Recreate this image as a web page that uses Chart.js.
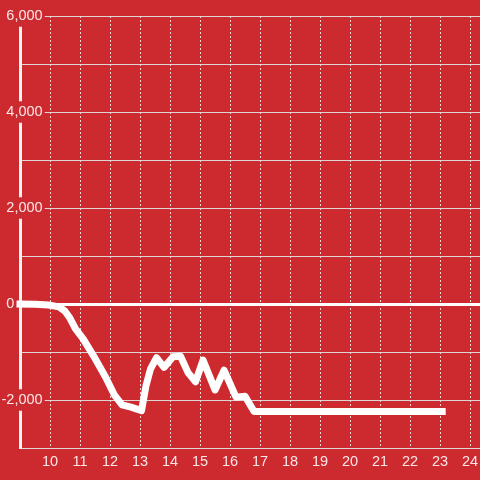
<!DOCTYPE html>
<html>
<head>
<meta charset="utf-8">
<script src="https://cdn.jsdelivr.net/npm/chart.js@4/dist/chart.umd.min.js"></script>
<style>
  html, body { margin: 0; padding: 0; background: #cc2a2f; }
  #wrap { width: 480px; height: 480px; }
</style>
</head>
<body>
<div id="wrap"><canvas id="chart" width="480" height="480"></canvas></div>
<script>
// hours (x) and balance (y)
const hours = [9.0, 9.5, 9.95, 10.3, 10.5, 10.65, 10.85, 11.1, 11.45, 11.85, 12.15, 12.4, 12.7, 13.05,
  13.2, 13.35, 13.55, 13.8, 14.1, 14.35, 14.6, 14.85, 15.1, 15.5, 15.8, 16.2, 16.5, 16.8, 23.07];
const balance = [0, -5, -20, -60, -150, -280, -520, -720, -1080, -1520, -1900, -2100, -2150, -2220,
  -1700, -1350, -1120, -1320, -1100, -1090, -1430, -1620, -1170, -1790, -1380, -1940, -1920, -2240, -2240];
const xTicks = [10, 11, 12, 13, 14, 15, 16, 17, 18, 19, 20, 21, 22, 23, 24];
const yLabelled = [-2000, 0, 2000, 4000, 6000];

const bg = '#cc2a2f';
const txt = 'rgba(255,240,240,0.95)';
const font = { family: '"Liberation Sans", Arial, sans-serif', size: 14.5 };

const points = hours.map((h, i) => ({ x: h, y: balance[i] }));

new Chart(document.getElementById('chart'), {
  type: 'line',
  data: {
    datasets: [{
      data: points,
      borderColor: '#ffffff',
      borderWidth: 7,
      pointRadius: 0,
      tension: 0,
      borderJoinStyle: 'round',
      borderCapStyle: 'square',
      clip: 8
    }]
  },
  options: {
    responsive: false,
    animation: false,
    devicePixelRatio: 1,
    layout: { padding: { top: 16, right: 0, bottom: 4.6, left: 0 } },
    plugins: { legend: { display: false }, tooltip: { enabled: false } },
    scales: {
      x: {
        type: 'linear',
        min: 9,
        max: 24.33,
        afterBuildTicks: (s) => { s.ticks = xTicks.map(v => ({ value: v })); },
        afterFit: (s) => { s.paddingLeft = 0; s.paddingRight = 0; },
        grid: { color: 'rgba(255,255,255,0.8)', lineWidth: 1, drawTicks: false },
        border: { display: false, dash: [2, 2] },
        ticks: { color: txt, font: font, padding: 5, maxRotation: 0, autoSkip: false }
      },
      y: {
        min: -3000,
        max: 6000,
        afterFit: (s) => { s.width = 20; },
        grid: {
          drawTicks: false,
          color: (c) => c.tick && c.tick.value === 0 ? '#ffffff' : 'rgba(222,222,222,0.95)',
          lineWidth: (c) => c.tick && c.tick.value === 0 ? 3 : 1
        },
        border: { display: true, color: '#f4f4f4', width: 3 },
        ticks: {
          stepSize: 1000,
          mirror: true,
          crossAlign: 'far',
          color: txt,
          font: font,
          padding: -18.5,
          showLabelBackdrop: true,
          backdropPadding: { left: 4, right: 2, top: 2, bottom: 2 },
          backdropColor: (c) => (c.tick && c.tick.value !== 0 && yLabelled.includes(c.tick.value)) ? bg : 'rgba(0,0,0,0)',
          callback: (v) => {
            if (!yLabelled.includes(v)) return '';
            if (v === 0) return '0       ';
            return v.toLocaleString('en-US');
          }
        }
      }
    }
  }
});
</script>
</body>
</html>
